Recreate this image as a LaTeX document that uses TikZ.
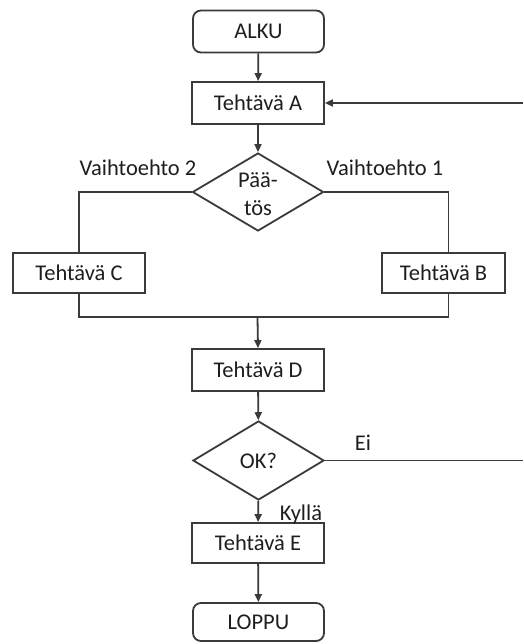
\documentclass[tikz,border=0pt]{standalone}
\usepackage{fontspec}
\setmainfont{Carlito}
\usetikzlibrary{shapes.geometric,arrows.meta,calc}
\definecolor{ink}{HTML}{3A3A3A}
\definecolor{txt}{HTML}{1E1E1E}
\tikzset{
  base/.style={draw=ink, line width=1.8pt, text=txt, font=\fontsize{22.5}{26}\selectfont, inner sep=0pt},
  task/.style={base, rectangle, minimum width=132pt, minimum height=42pt},
  term/.style={base, rectangle, rounded corners=8pt, minimum width=131pt, minimum height=42pt},
  choice/.style={base, diamond, minimum width=131pt, minimum height=78pt},
  lbl/.style={text=txt, font=\fontsize{22.5}{26}\selectfont, inner sep=0pt},
  flow/.style={draw=ink, line width=1.8pt},
  arr/.style={flow, -{Triangle[length=8pt,width=7pt]}}
}
\begin{document}
\begin{tikzpicture}[x=1pt,y=-1pt]
\useasboundingbox (0,0) rectangle (523,644);
% main column
\node[term] (alku) at (258.5,31.5) {ALKU};
\node[task] (ta) at (258,103) {Tehtävä A};
\node[choice] (paatos) at (258,192) {};
\node[lbl, anchor=base] (paa) at (258,188) {Pää-};
\node[lbl, anchor=base] (tos) at (258,215) {tös};
\node[task, minimum width=132pt, minimum height=40pt] (tc) at (79,273) {Tehtävä C};
\node[task, minimum width=123pt, minimum height=40pt] (tb) at (443.5,273) {Tehtävä B};
\coordinate (join) at (257.5,317);
\node[task] (td) at (258,370) {Tehtävä D};
\node[choice, minimum height=79pt] (ok) at (258.5,460.5) {OK?};
\node[task, minimum height=40pt] (te) at (258,543) {Tehtävä E};
\node[term, minimum height=38pt] (loppu) at (258.5,622) {LOPPU};
% free ends of the loop at the right edge
\coordinate (loopin) at (523,103);
\coordinate (loopout) at (523,460.5);
% labels
\node[lbl] (v2) at (138,168) {Vaihtoehto 2};
\node[lbl] (v1) at (385,168) {Vaihtoehto 1};
\node[lbl] (ei) at (363,443) {Ei};
\node[lbl] (kylla) at (301,514) {Kyllä};
% connectors
\draw[arr] (alku) -- (ta);
\draw[arr] (ta) -- (paatos);
\draw[arr] (loopin) -- (ta.east);
\draw[flow] (paatos.west) -| (tc.north);
\draw[flow] (paatos.east) -| ([xshift=5pt]tb.north);
\draw[flow] (tc.south) |- (join);
\draw[flow] ([xshift=5pt]tb.south) |- (join);
\draw[arr] (join) -- (td.north);
\draw[arr] (td) -- (ok);
\draw[flow] (ok.east) -- (loopout);
\draw[arr] (ok) -- (te);
\draw[arr] (te) -- (loppu);
\end{tikzpicture}
\end{document}
